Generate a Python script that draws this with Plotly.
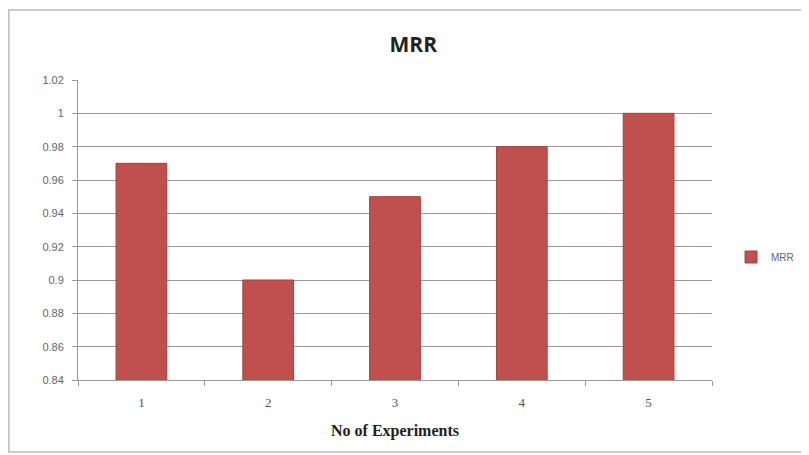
import plotly.graph_objects as go

experiments = ["1", "2", "3", "4", "5"]
mrr = [0.97, 0.90, 0.95, 0.98, 1.00]
y_tick_vals = [0.84, 0.86, 0.88, 0.90, 0.92, 0.94, 0.96, 0.98, 1.00, 1.02]
y_tick_text = ["0.84", "0.86", "0.88", "0.9", "0.92", "0.94", "0.96", "0.98", "1", "1.02"]

fig = go.Figure()
fig.add_trace(go.Bar(
    x=experiments, y=mrr, name="MRR",
    marker=dict(color="#C0504D", line=dict(color="#A5403D", width=1)),
    showlegend=True,
))

fig.update_layout(
    width=801, height=447,
    margin=dict(l=70, r=97, t=72, b=75, autoexpand=False),
    paper_bgcolor="white", plot_bgcolor="white",
    title=dict(text="<b>MRR</b>", x=0.506, xanchor="center", y=0.917, yanchor="middle",
               font=dict(family="Open Sans, Liberation Sans, sans-serif", size=21, color="#222")),
    bargap=0.6,
    showlegend=True,
    legend=dict(x=1.03, y=0.41, xanchor="left", yanchor="middle",
                font=dict(family="Liberation Sans, sans-serif", size=10, color="#666"),
                itemwidth=30, bgcolor="rgba(0,0,0,0)"),
    xaxis=dict(
        type="category",
        showline=True, linecolor="#999", linewidth=1,
        ticks="outside", tickson="boundaries", ticklen=5, tickcolor="#999",
        ticklabelstandoff=10,
        tickfont=dict(family="Liberation Serif, serif", size=13, color="#555"),
        title=dict(text="<b>No of Experiments</b>", standoff=16,
                   font=dict(family="Liberation Serif, serif", size=16, color="#222")),
        showgrid=False,
    ),
    yaxis=dict(
        range=[0.84, 1.02],
        tickvals=y_tick_vals, ticktext=y_tick_text,
        showline=True, linecolor="#999", linewidth=1,
        ticks="outside", ticklen=5, tickcolor="#999",
        ticklabelstandoff=6,
        showgrid=True, gridcolor="#9a9a9a", gridwidth=1,
        tickfont=dict(family="Liberation Sans, sans-serif", size=11, color="#666"),
        zeroline=False,
    ),
    shapes=[dict(type="rect", xref="paper", yref="paper",
                 x0=-0.109, x1=1.16, y0=-0.24, y1=1.233,
                 line=dict(color="#bbb", width=1.5), fillcolor="rgba(0,0,0,0)")],
)

fig.write_html("out.html")
